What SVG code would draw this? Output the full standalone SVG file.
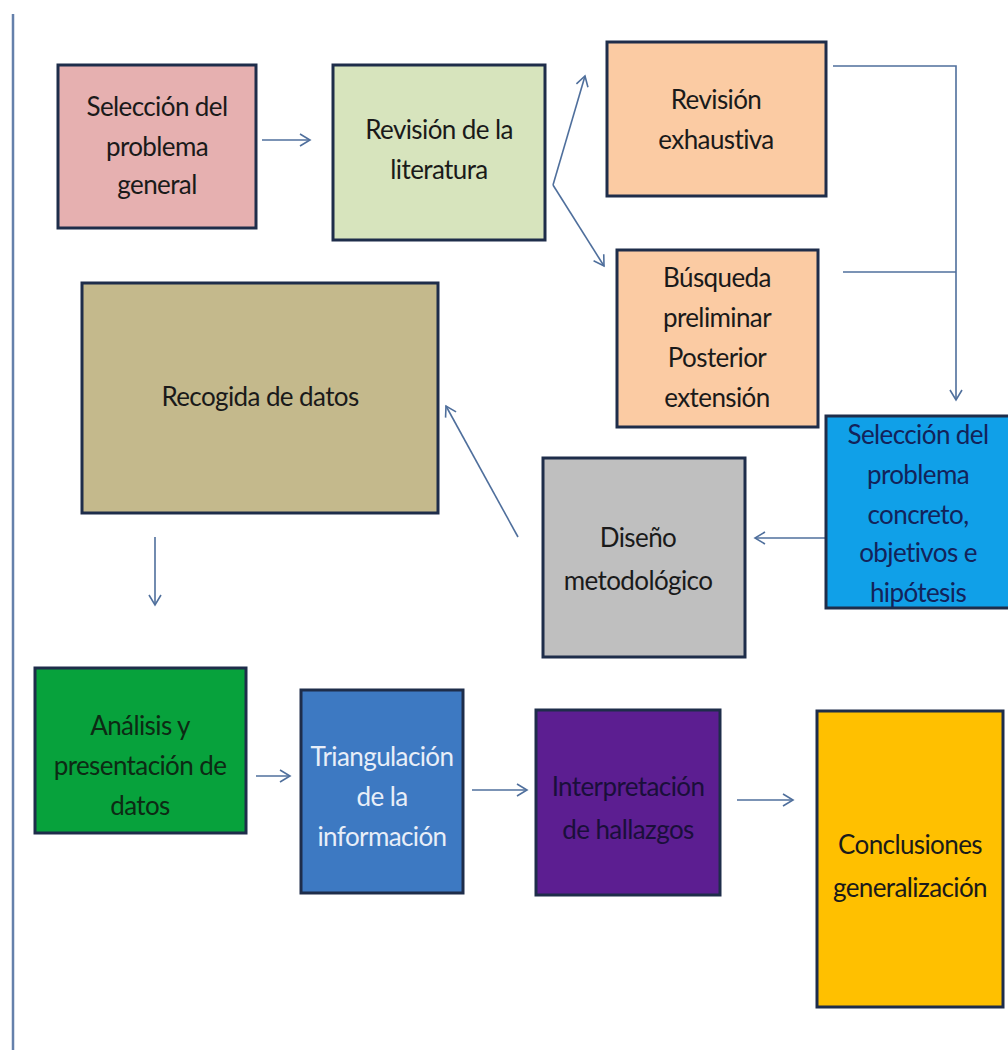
<svg xmlns="http://www.w3.org/2000/svg" width="1008" height="1050" viewBox="0 0 1008 1050">
<defs>
<marker id="ah" markerWidth="14" markerHeight="14" refX="12" refY="7" orient="auto" markerUnits="userSpaceOnUse">
<polyline points="2,1 12,7 2,13" fill="none" stroke="#4f6f9c" stroke-width="1.6"/>
</marker>
<style>
.box{stroke:#1e2d4a;stroke-width:3}
.t{font-family:Lato,"Open Sans","Liberation Sans",sans-serif;font-size:26px;letter-spacing:-0.6px;fill:#1a1a1a;text-anchor:middle}
.c{fill:none;stroke:#4f6f9c;stroke-width:1.6}
</style>
</defs>
<rect width="1008" height="1050" fill="#ffffff"/>
<line x1="13" y1="14" x2="13" y2="1050" stroke="#6580ab" stroke-width="2.5"/>

<g id="connectors">
<line class="c" x1="262" y1="140" x2="310" y2="140" marker-end="url(#ah)"/>
<line class="c" x1="553" y1="185" x2="604" y2="266" marker-end="url(#ah)"/>
<line class="c" x1="553" y1="185" x2="585" y2="76" marker-end="url(#ah)"/>
<polyline class="c" points="833,66 956,66 956,400" marker-end="url(#ah)"/>
<line class="c" x1="843" y1="272" x2="956" y2="272"/>
<line class="c" x1="825" y1="538" x2="755" y2="538" marker-end="url(#ah)"/>
<line class="c" x1="518" y1="537" x2="446" y2="406" marker-end="url(#ah)"/>
<line class="c" x1="155" y1="537" x2="155" y2="605" marker-end="url(#ah)"/>
<line class="c" x1="256" y1="776" x2="290" y2="776" marker-end="url(#ah)"/>
<line class="c" x1="472" y1="790" x2="527" y2="790" marker-end="url(#ah)"/>
<line class="c" x1="737" y1="800" x2="793" y2="800" marker-end="url(#ah)"/>
</g>

<g id="n1">
<rect class="box" x="58" y="65" width="198" height="163" fill="#e6b0b0"/>
<text class="t" x="157" y="116">Selección del</text>
<text class="t" x="157" y="156">problema</text>
<text class="t" x="157" y="194">general</text>
</g>
<g id="n2">
<rect class="box" x="333" y="65" width="212" height="175" fill="#d7e4bd"/>
<text class="t" x="439" y="139">Revisión de la</text>
<text class="t" x="439" y="179">literatura</text>
</g>
<g id="n3">
<rect class="box" x="607" y="42" width="219" height="154" fill="#fbcba3"/>
<text class="t" x="716" y="109">Revisión</text>
<text class="t" x="716" y="149">exhaustiva</text>
</g>
<g id="n4">
<rect class="box" x="617" y="250" width="201" height="177" fill="#fbcba3"/>
<text class="t" x="717" y="287">Búsqueda</text>
<text class="t" x="717" y="327">preliminar</text>
<text class="t" x="717" y="367">Posterior</text>
<text class="t" x="717" y="407">extensión</text>
</g>
<g id="n5">
<rect class="box" x="826" y="416" width="184" height="192" fill="#10a0e8"/>
<text class="t" x="918" y="444" style="fill:#13235a">Selección del</text>
<text class="t" x="918" y="484" style="fill:#13235a">problema</text>
<text class="t" x="918" y="524" style="fill:#13235a">concreto,</text>
<text class="t" x="918" y="562" style="fill:#13235a">objetivos e</text>
<text class="t" x="918" y="602" style="fill:#13235a">hipótesis</text>
</g>
<g id="n6">
<rect class="box" x="543" y="458" width="202" height="199" fill="#bfbfbf"/>
<text class="t" x="638" y="547">Diseño</text>
<text class="t" x="638" y="590">metodológico</text>
</g>
<g id="n7">
<rect class="box" x="82" y="283" width="356" height="230" fill="#c4b98c"/>
<text class="t" x="260" y="406">Recogida de datos</text>
</g>
<g id="n8">
<rect class="box" x="35" y="668" width="211" height="165" fill="#07a23c"/>
<text class="t" x="140" y="735" style="fill:#0d2a14">Análisis y</text>
<text class="t" x="140" y="775" style="fill:#0d2a14">presentación de</text>
<text class="t" x="140" y="815" style="fill:#0d2a14">datos</text>
</g>
<g id="n9">
<rect class="box" x="301" y="690" width="162" height="203" fill="#3d79c2"/>
<text class="t" x="382" y="766" style="fill:#e8eef8">Triangulación</text>
<text class="t" x="382" y="806" style="fill:#e8eef8">de la</text>
<text class="t" x="382" y="846" style="fill:#e8eef8">información</text>
</g>
<g id="n10">
<rect class="box" x="536" y="710" width="184" height="185" fill="#5c1e91"/>
<text class="t" x="628" y="796" style="fill:#1a0f3a">Interpretación</text>
<text class="t" x="628" y="839" style="fill:#1a0f3a">de hallazgos</text>
</g>
<g id="n11">
<rect class="box" x="817" y="711" width="186" height="296" fill="#ffc000"/>
<text class="t" x="910" y="854">Conclusiones</text>
<text class="t" x="910" y="897">generalización</text>
</g>
</svg>
